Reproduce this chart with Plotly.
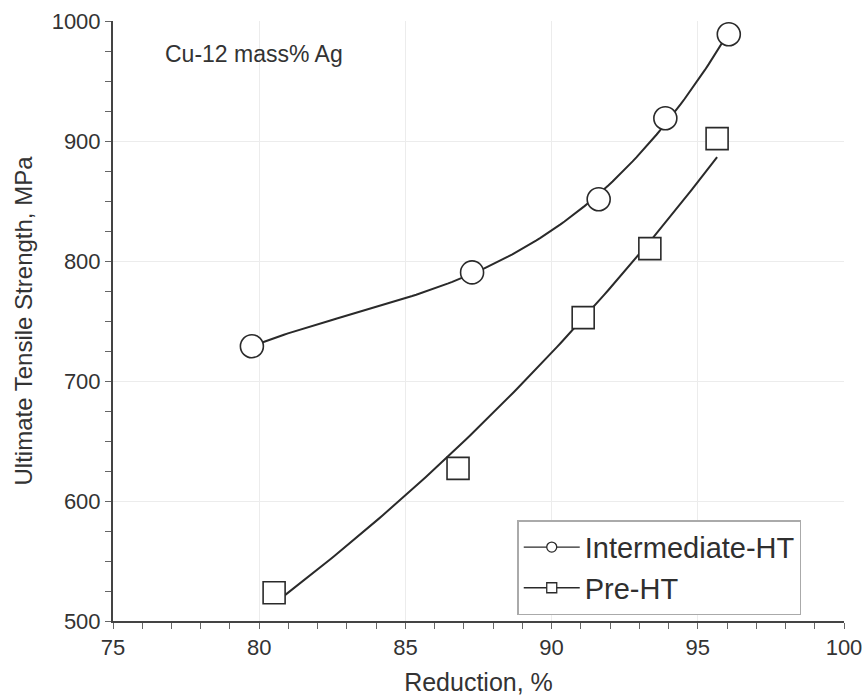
import numpy as np
import plotly.graph_objects as go

# Data
inter_x = [79.75, 87.28, 91.61, 93.89, 96.06]
inter_y = [729, 790.5, 851.5, 919, 989]
pre_x = [80.51, 86.80, 91.08, 93.36, 95.66]
pre_y = [523.6, 627.2, 752.8, 810.3, 902]

series_names = ["Intermediate-HT", "Pre-HT"]
annotation_text = "Cu-12 mass% Ag"
x_title = "Reduction, %"
y_title = "Ultimate Tensile Strength, MPa"

FONT = "Liberation Sans, Arial, sans-serif"
INK = "#2a2a2a"


def poly_trend(xs, ys, deg):
    """Least-squares polynomial trend curve through the measured points."""
    c = np.polyfit(xs, ys, deg)
    gx = np.linspace(min(xs), max(xs), 120)
    return gx, np.polyval(c, gx)


def exp_trend(xs, ys):
    """Least-squares exponential trend curve (linear in log y)."""
    c = np.polyfit(xs, np.log(ys), 1)
    gx = np.linspace(min(xs) + 0.35, max(xs), 120)
    return gx, np.exp(np.polyval(c, gx))


fig = go.Figure()
curves = [
    (inter_x, inter_y, poly_trend(inter_x, inter_y, 3), "circle", 23, series_names[0]),
    (pre_x, pre_y, exp_trend(pre_x, pre_y), "square", 22, series_names[1]),
]
for xs, ys, (gx, gy), sym, size, name in curves:
    fig.add_trace(go.Scatter(x=gx, y=gy, mode="lines", showlegend=False,
                             line=dict(color=INK, width=2), hoverinfo="skip"))
    fig.add_trace(go.Scatter(x=xs, y=ys, mode="markers", showlegend=False, name=name,
                             marker=dict(symbol=sym, size=size, color="white",
                                         line=dict(color=INK, width=1.6))))
    # legend entry (small symbol with thin line, as in the reference)
    fig.add_trace(go.Scatter(x=[None], y=[None], mode="lines+markers", name=name,
                             line=dict(color=INK, width=1.3),
                             marker=dict(symbol=sym, size=10, color="white",
                                         line=dict(color=INK, width=1.3))))

fig.update_layout(
    width=865, height=700,
    margin=dict(l=113, r=21, t=21, b=79, autoexpand=False),
    paper_bgcolor="white", plot_bgcolor="white",
    font=dict(family=FONT, color="#333333"),
    showlegend=True,
    legend=dict(
        x=0.553, y=0.168, xanchor="left", yanchor="top",
        bordercolor="#aaaaaa", borderwidth=1.5, bgcolor="white",
        font=dict(size=29, family=FONT, color="#2f2f2f"),
        itemwidth=56, tracegroupgap=0,
    ),
    annotations=[dict(
        text=annotation_text, xref="paper", yref="paper", x=0.068, y=0.945,
        xanchor="left", yanchor="middle", showarrow=False,
        font=dict(size=23, family=FONT, color="#333333"),
    )],
)

fig.update_xaxes(
    range=[75, 100], dtick=5, tick0=75,
    showline=True, linecolor="#444444", linewidth=2,
    ticks="outside", ticklen=6, tickwidth=1, tickcolor="#666666",
    minor=dict(dtick=1, ticks="outside", ticklen=6, tickcolor="#666666", showgrid=False),
    showgrid=True, gridcolor="#ececec", gridwidth=1, zeroline=False,
    tickfont=dict(size=22, family=FONT, color="#333333"),
    title=dict(text=x_title, font=dict(size=25, family=FONT, color="#333333"), standoff=14),
)
fig.update_yaxes(
    range=[500, 1000], dtick=100, tick0=500,
    showline=True, linecolor="#444444", linewidth=2,
    ticks="outside", ticklen=6, tickwidth=1, tickcolor="#666666",
    minor=dict(dtick=25, ticks="outside", ticklen=6, tickcolor="#666666", showgrid=False),
    showgrid=True, gridcolor="#ececec", gridwidth=1, zeroline=False,
    tickfont=dict(size=22, family=FONT, color="#333333"),
    title=dict(text=y_title, font=dict(size=24, family=FONT, color="#333333"), standoff=12),
)

fig.write_html("out.html")
